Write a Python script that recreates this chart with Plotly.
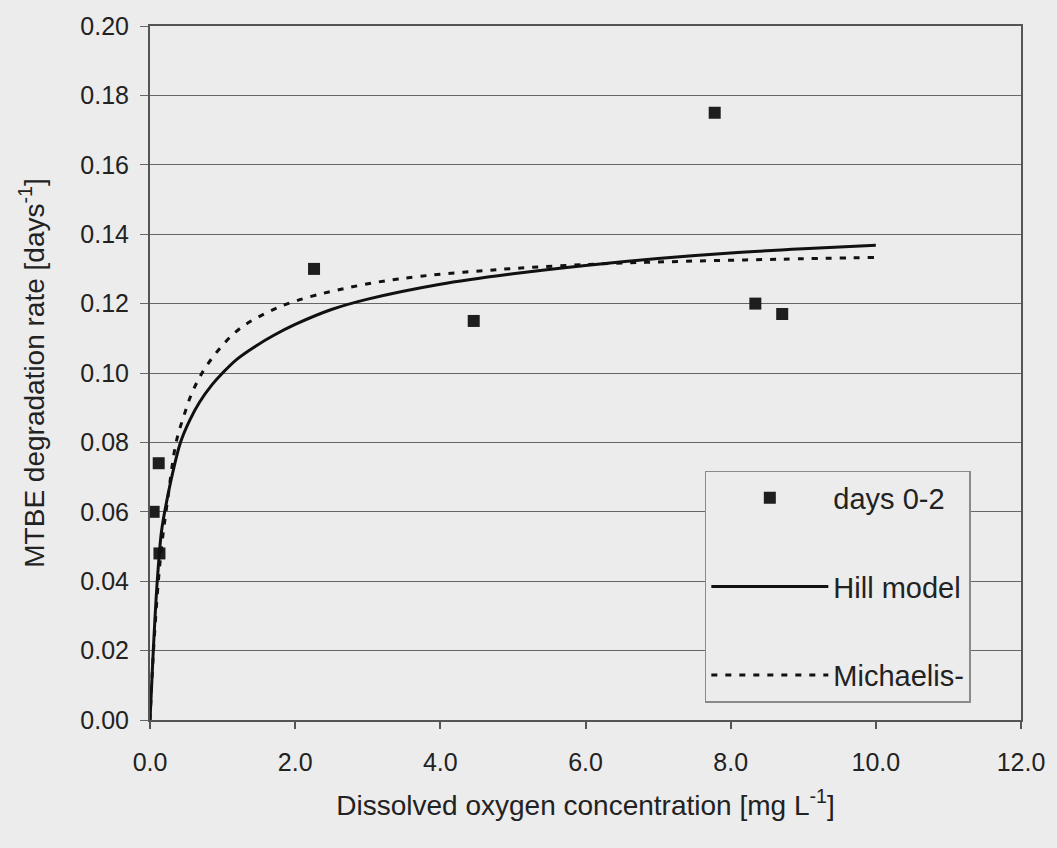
import plotly.graph_objects as go

# Measured data (days 0-2)
obs_x = [0.05, 0.12, 0.13, 2.26, 4.46, 7.78, 8.34, 8.71]
obs_y = [0.060, 0.074, 0.048, 0.130, 0.115, 0.175, 0.120, 0.117]

# Hill model curve
hill_x = [0, 0.045, 0.10, 0.16, 0.23, 0.31, 0.42, 0.55, 0.68, 0.85, 1.0, 1.2,
          1.46, 1.7, 2.0, 2.5, 3.0, 4.0, 5.0, 6.0, 7.0, 8.0, 9.0, 10.0]
hill_y = [0, 0.020, 0.040, 0.0546, 0.063, 0.071, 0.080, 0.0865, 0.0915, 0.0965,
          0.1000, 0.1040, 0.1078, 0.1108, 0.1140, 0.1183, 0.1213, 0.1256, 0.1286,
          0.1310, 0.1330, 0.1346, 0.1358, 0.1368]

# Michaelis-Menten curve
mm_x = [0, 0.04, 0.10, 0.16, 0.24, 0.36, 0.46, 0.59, 0.80, 1.19, 1.60, 2.0, 2.6,
        3.42, 4.79, 6.16, 7.39, 8.7, 10.0]
mm_y = [0, 0.017, 0.036, 0.050, 0.063, 0.080, 0.0872, 0.0948, 0.1027, 0.112,
        0.1173, 0.1207, 0.124, 0.1271, 0.1298, 0.1314, 0.1322, 0.1328, 0.1333]

BG = "#ececec"
TXT = "#222222"
FONT = "Liberation Sans, Arial, sans-serif"

fig = go.Figure()
fig.add_trace(go.Scatter(x=obs_x, y=obs_y, mode="markers", name="days 0-2",
                         legendgroup="a",
                         marker=dict(symbol="square", size=12, color="#1e1e1e")))
fig.add_trace(go.Scatter(x=hill_x, y=hill_y, mode="lines", name="Hill model",
                         legendgroup="b", line_shape="spline",
                         line=dict(color="#111111", width=3)))
fig.add_trace(go.Scatter(x=mm_x, y=mm_y, mode="lines", name="Michaelis-",
                         legendgroup="c", line_shape="spline",
                         line=dict(color="#111111", width=3, dash="6px,8px")))

fig.update_layout(
    width=1057, height=848,
    margin=dict(l=150, r=32, t=24, b=128),
    paper_bgcolor=BG, plot_bgcolor=BG,
    font=dict(family=FONT, size=25, color=TXT),
    legend=dict(x=0.637, y=0.359, xanchor="left", yanchor="top",
                bgcolor=BG, bordercolor="#8a8a8a", borderwidth=1.5,
                font=dict(size=29, color=TXT),
                tracegroupgap=48, itemwidth=117),
    xaxis=dict(range=[0, 12], dtick=2, tickformat=".1f",
               showgrid=False, zeroline=False,
               showline=True, linecolor="#555555", linewidth=2, mirror=True,
               ticks="outside", ticklen=7, tickcolor="#555555", tickwidth=1.5,
               ticklabelstandoff=12,
               title=dict(text="Dissolved oxygen concentration [mg L<sup>-1</sup>]",
                          standoff=20, font=dict(size=28))),
    yaxis=dict(range=[0, 0.2], dtick=0.02, tickformat=".2f",
               showgrid=True, gridcolor="#666666", gridwidth=1.3, zeroline=False,
               showline=True, linecolor="#555555", linewidth=2, mirror=True,
               ticks="outside", ticklen=8, tickcolor="#666666", tickwidth=1.3,
               ticklabelstandoff=6,
               title=dict(text="MTBE degradation rate [days<sup>-1</sup>]",
                          standoff=28, font=dict(size=28))),
)

fig.write_html("out.html")
